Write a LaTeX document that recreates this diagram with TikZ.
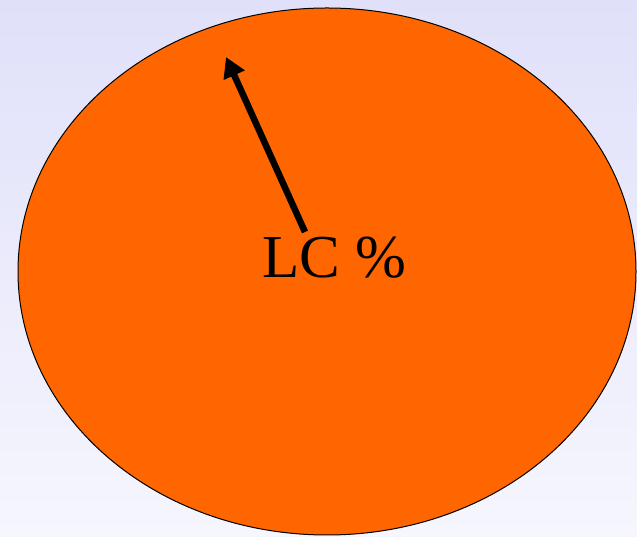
\documentclass[tikz,border=0pt]{standalone}
\usepackage{fontspec}
\setmainfont{Liberation Serif}
\usetikzlibrary{arrows.meta,shapes.geometric}
\definecolor{bgtop}{RGB}{224,224,250}
\definecolor{bgbot}{RGB}{246,246,254}
\definecolor{orangefill}{RGB}{255,102,0}
\tikzset{
  blob/.style={draw=black, line width=1pt, fill=orangefill},
  pointer/.style={line width=6.5pt, -{Triangle[length=20pt,width=22pt]}},
  lbl/.style={font=\fontsize{61}{61}\selectfont, inner sep=0pt, anchor=base}
}
\begin{document}
\begin{tikzpicture}[x=1pt,y=1pt]
\shade[top color=bgtop, bottom color=bgbot] (0,0) rectangle (637,537);
\useasboundingbox (0,0) rectangle (637,537);
\node[blob, ellipse, minimum width=618pt, minimum height=527pt, inner sep=0pt] (oval) at (327,265.5) {};
\node[lbl] (txt) at (334.5,259) {LC \%};
\coordinate (tip) at (226,480);
\coordinate (start) at (305,305);
\draw[pointer] (start) -- (tip);
\end{tikzpicture}
\end{document}
